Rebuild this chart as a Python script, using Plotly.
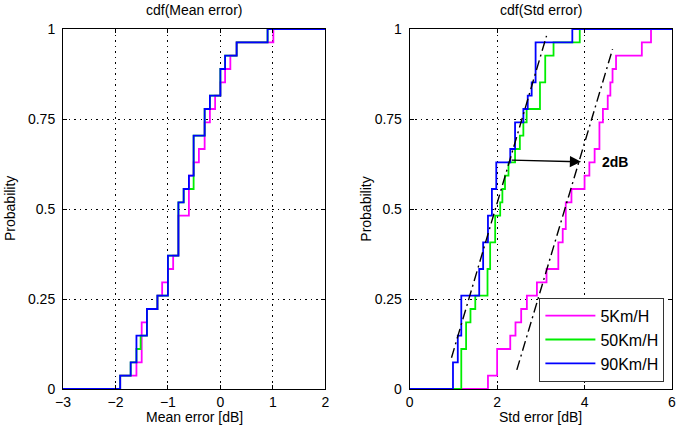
import numpy as np
import plotly.graph_objects as go

# ---------------- data (sample values) ----------------
series_names = ["5Km/H", "50Km/H", "90Km/H"]
series_colors = ["#ff00ff", "#00ee00", "#0000ff"]

mean_err_5 = [-1.91, -1.60, -1.50, -1.50, -1.50, -1.40, -1.20, -1.11, -1.00, -0.90,
              -0.80, -0.80, -0.80, -0.60, -0.60, -0.60, -0.51, -0.41, -0.30, -0.30,
              -0.20, -0.10, 0.00, 0.09, 0.19, 0.31, 1.01]
mean_err_50 = [-1.91, -1.71, -1.60, -1.52, -1.40, -1.40, -1.20, -1.00, -1.00, -1.00,
               -0.80, -0.80, -0.80, -0.80, -0.70, -0.51, -0.51, -0.51, -0.51, -0.30,
               -0.30, -0.20, 0.00, 0.00, 0.09, 0.31, 0.90]
mean_err_90 = [-1.91, -1.71, -1.60, -1.60, -1.40, -1.40, -1.20, -1.00, -1.00, -1.00,
               -0.80, -0.80, -0.80, -0.80, -0.70, -0.60, -0.51, -0.51, -0.51, -0.30,
               -0.30, -0.20, 0.00, 0.00, 0.09, 0.31, 0.90]

std_err_5 = [1.79, 2.00, 2.00, 2.30, 2.42, 2.55, 2.68, 2.91, 3.13, 3.40, 3.40, 3.50,
             3.57, 3.57, 3.70, 4.00, 4.11, 4.23, 4.34, 4.34, 4.42, 4.53, 4.59, 4.64,
             4.72, 5.31, 5.52]
std_err_50 = [1.18, 1.18, 1.18, 1.29, 1.29, 1.39, 1.50, 1.78, 1.78, 1.84, 1.84, 1.955,
              1.955, 2.07, 2.12, 2.18, 2.26, 2.41, 2.52, 2.60, 2.675, 2.98, 2.98, 3.10,
              3.10, 3.29, 3.89]
std_err_90 = [0.99, 0.99, 1.10, 1.10, 1.18, 1.18, 1.18, 1.59, 1.59, 1.68, 1.68, 1.79,
              1.79, 1.88, 1.88, 1.98, 1.98, 2.30, 2.41, 2.41, 2.60, 2.70, 2.79, 2.88,
              2.88, 2.88, 3.72]

# dash-dot fit lines on the Std error panel
fit_fast_x = [0.956, 3.13]
fit_fast_y = [0.087, 0.981]
fit_slow_x = [2.45, 4.64]
fit_slow_y = [0.053, 0.944]

# 2dB arrow
arrow_from = (2.30, 0.636)
arrow_to = (3.92, 0.631)
arrow_label = "2dB"
arrow_label_x = 4.36

mean_ticks = [-3, -2, -1, 0, 1, 2]
std_ticks = [0, 2, 4, 6]
prob_ticks = [0, 0.25, 0.5, 0.75, 1]
prob_labels = ["0", "0.25", "0.5", "0.75", "1"]


def ecdf(samples, xmin, xmax):
    v = np.sort(np.asarray(samples, dtype=float))
    u, counts = np.unique(v, return_counts=True)
    c = np.cumsum(counts) / len(v)
    xs = [xmin] + list(u) + [xmax]
    ys = [0.0] + list(c) + [1.0]
    return xs, ys


FONT = "Liberation Sans, Arial, sans-serif"
fig = go.Figure()

left_sets = [mean_err_5, mean_err_50, mean_err_90]
right_sets = [std_err_5, std_err_50, std_err_90]

for i, (name, col) in enumerate(zip(series_names, series_colors)):
    xs, ys = ecdf(left_sets[i], -3, 2)
    fig.add_trace(go.Scatter(x=xs, y=ys, mode="lines", line=dict(color=col, width=1.8, shape="hv"),
                             name=name, showlegend=False, xaxis="x", yaxis="y"))
for i, (name, col) in enumerate(zip(series_names, series_colors)):
    xs, ys = ecdf(right_sets[i], 0, 6)
    fig.add_trace(go.Scatter(x=xs, y=ys, mode="lines", line=dict(color=col, width=1.8, shape="hv"),
                             name=name, showlegend=True, xaxis="x2", yaxis="y2"))

for fx, fy in [(fit_fast_x, fit_fast_y), (fit_slow_x, fit_slow_y)]:
    fig.add_trace(go.Scatter(x=fx, y=fy, mode="lines",
                             line=dict(color="black", width=1.4, dash="10px,4px,2px,4px"),
                             showlegend=False, xaxis="x2", yaxis="y2"))

axis_common = dict(showline=True, linecolor="black", linewidth=1, mirror="all",
                   ticks="inside", ticklen=4, tickcolor="black",
                   showgrid=True, gridcolor="black", gridwidth=1.2, griddash="1.5px,4px",
                   zeroline=False, tickfont=dict(family=FONT, size=14, color="black"))

fig.update_layout(
    width=685, height=433,
    margin=dict(l=63, r=9, t=29, b=44),
    paper_bgcolor="white", plot_bgcolor="white",
    font=dict(family=FONT, size=14, color="black"),
    xaxis=dict(domain=[0, 0.4307], range=[-3, 2], tickvals=mean_ticks, **axis_common),
    yaxis=dict(domain=[0, 1], range=[0, 1], tickvals=prob_ticks, ticktext=prob_labels,
               ticklabelstandoff=4, **axis_common),
    xaxis2=dict(domain=[0.5693, 1], range=[0, 6], tickvals=std_ticks, anchor="y2", **axis_common),
    yaxis2=dict(domain=[0, 1], range=[0, 1], tickvals=prob_ticks, ticktext=prob_labels, anchor="x2",
                ticklabelstandoff=4, **axis_common),
    legend=dict(x=0.9875, y=0.02, xanchor="right", yanchor="bottom",
                bgcolor="white", bordercolor="#333333", borderwidth=1,
                font=dict(family=FONT, size=16, color="black"), itemwidth=50,
                tracegroupgap=0),
    showlegend=True,
)

ann = []
# titles
ann.append(dict(text="cdf(Mean error)", xref="x domain", yref="paper", x=0.5, y=1, yshift=19,
                showarrow=False, font=dict(size=14), yanchor="middle"))
ann.append(dict(text="cdf(Std error)", xref="x2 domain", yref="paper", x=0.5, y=1, yshift=19,
                showarrow=False, font=dict(size=14), yanchor="middle"))
# x labels
ann.append(dict(text="Mean error [dB]", xref="x domain", yref="paper", x=0.5, y=0, yshift=-28,
                showarrow=False, font=dict(size=14), yanchor="middle"))
ann.append(dict(text="Std error [dB]", xref="x2 domain", yref="paper", x=0.5, y=0, yshift=-28,
                showarrow=False, font=dict(size=14), yanchor="middle"))
# y labels
ann.append(dict(text="Probability", xref="x domain", yref="paper", x=0, xshift=-53, y=0.5,
                showarrow=False, textangle=-90, font=dict(size=14), xanchor="center"))
ann.append(dict(text="Probability", xref="x2 domain", yref="paper", x=0, xshift=-44, y=0.5,
                showarrow=False, textangle=-90, font=dict(size=14), xanchor="center"))
# arrow
ann.append(dict(x=arrow_to[0], y=arrow_to[1], ax=arrow_from[0], ay=arrow_from[1],
                xref="x2", yref="y2", axref="x2", ayref="y2", text="",
                showarrow=True, arrowhead=2, arrowsize=1.6, arrowwidth=1.4, arrowcolor="black"))
ann.append(dict(text="<b>%s</b>" % arrow_label, x=arrow_label_x, y=arrow_to[1], xref="x2", yref="y2",
                xanchor="left", showarrow=False, font=dict(size=14)))
fig.update_layout(annotations=ann)

fig.write_html("out.html", config={"displayModeBar": False},
               post_script="document.body.style.margin='0px';")
